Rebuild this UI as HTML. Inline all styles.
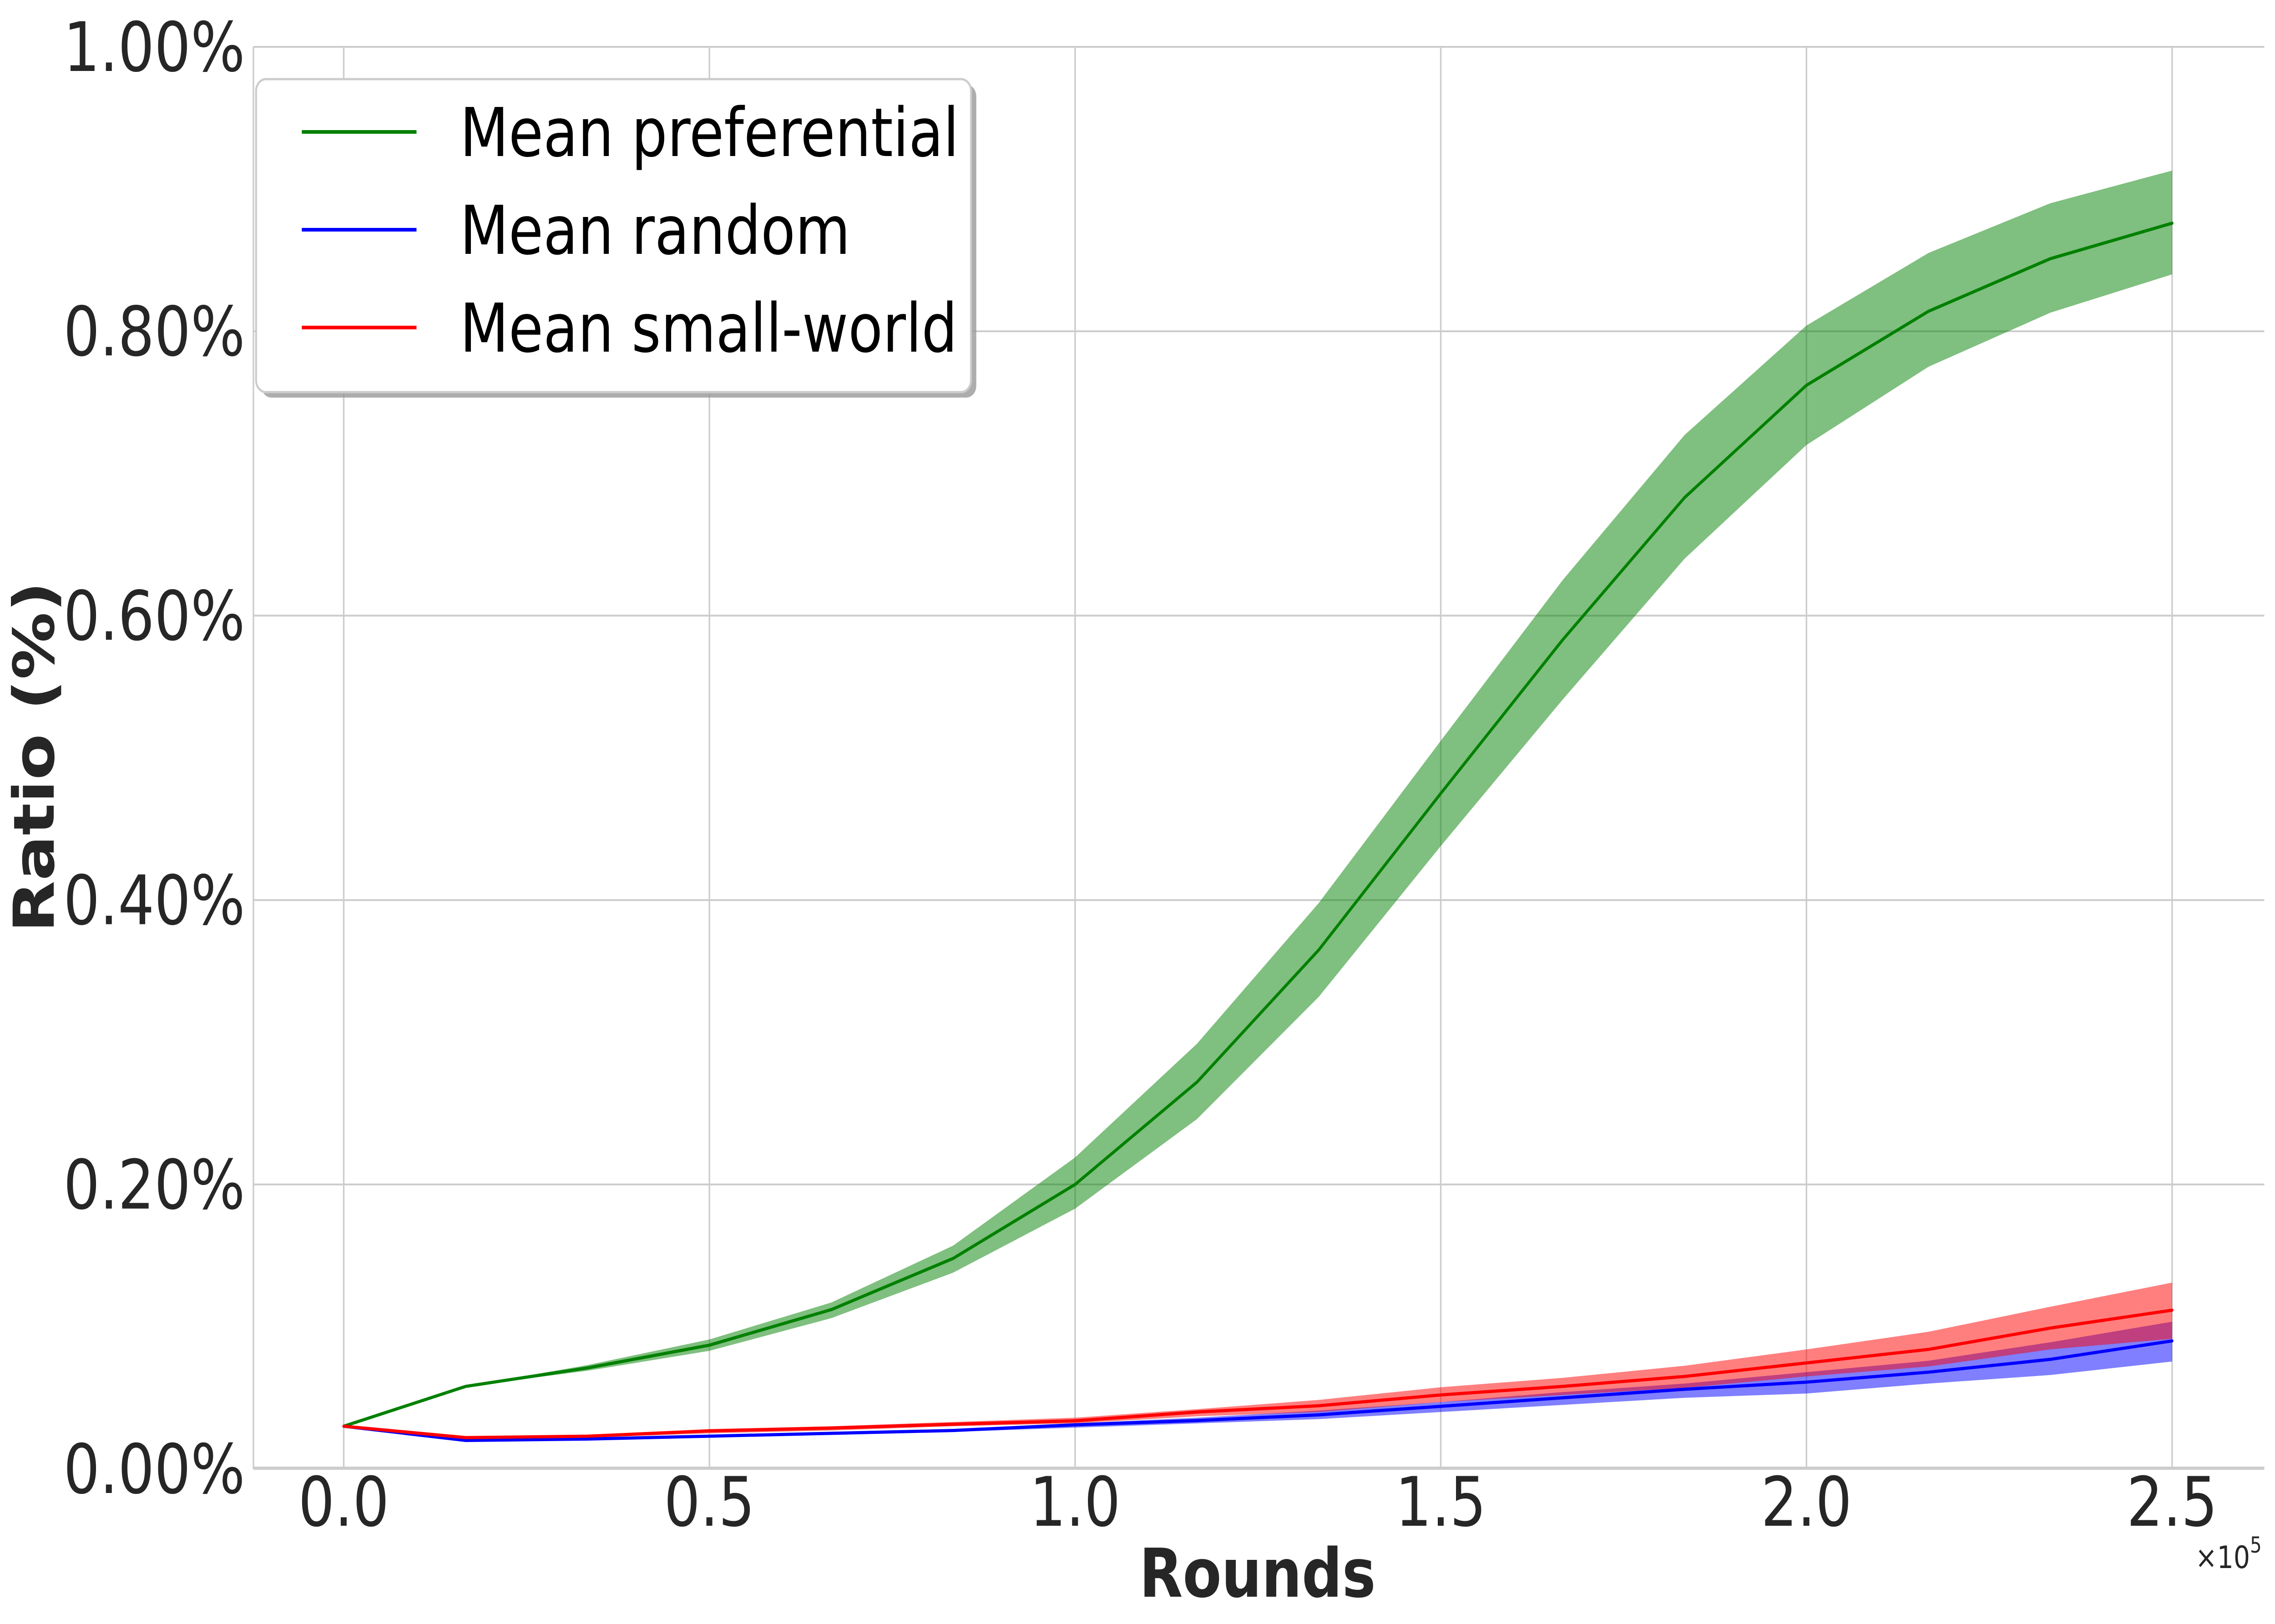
<!DOCTYPE html>
<html><head><meta charset="utf-8"><style>
html,body{margin:0;padding:0;background:#fff;width:100%;height:100%;overflow:hidden;}
svg{display:block;font-family:"DejaVu Sans","Liberation Sans",sans-serif;width:100vw;height:100vh;}
</style></head><body>
<svg id="chart" viewBox="0 0 5970 3570" preserveAspectRatio="none" xmlns="http://www.w3.org/2000/svg">
<g id="grid"></g>
<g id="bands"></g>
<g id="lines"></g>
<g id="axes"></g>
<text x="3300" y="3510" font-size="148" font-weight="bold" fill="#262626" text-anchor="middle">Rounds</text>
<text transform="translate(141,1664) rotate(-90)" font-size="148" font-weight="bold" fill="#262626" text-anchor="middle">Ratio (%)</text>
<text x="5935" y="3447" font-size="68" fill="#262626" text-anchor="end">×10<tspan font-size="48" dy="-34">5</tspan></text>
<g>
<rect x="686" y="186" width="1876" height="688" rx="26" fill="#999" opacity="0.8"/>
<rect x="672" y="174" width="1876" height="688" rx="26" fill="#fff" stroke="#cccccc" stroke-width="5"/>
<line x1="792" y1="290" x2="1093" y2="290" stroke="#008000" stroke-width="8"/>
<text x="1207" y="343" font-size="148" fill="#000">Mean preferential</text>
<line x1="792" y1="505" x2="1093" y2="505" stroke="#0000ff" stroke-width="8"/>
<text x="1207" y="558" font-size="148" fill="#000">Mean random</text>
<line x1="792" y1="720" x2="1093" y2="720" stroke="#ff0000" stroke-width="8"/>
<text x="1207" y="773" font-size="148" fill="#000">Mean small-world</text>
</g>
</svg>
<script>
const rounds = [0,0.1667,0.3333,0.5,0.6667,0.8333,1.0,1.1667,1.3333,1.5,1.6667,1.8333,2.0,2.1667,2.3333,2.5];
const prefMean = [0.030,0.058,0.071,0.087,0.112,0.148,0.200,0.272,0.365,0.475,0.583,0.683,0.762,0.814,0.851,0.876];
const prefUpper = [0.030,0.058,0.073,0.091,0.117,0.157,0.219,0.299,0.398,0.512,0.625,0.727,0.804,0.855,0.890,0.913];
const prefLower = [0.030,0.058,0.069,0.083,0.106,0.138,0.183,0.246,0.332,0.438,0.541,0.640,0.720,0.775,0.813,0.840];
const randMean = [0.030,0.020,0.021,0.023,0.025,0.027,0.031,0.034,0.038,0.044,0.050,0.056,0.061,0.068,0.077,0.090];
const randUpper = [0.030,0.0205,0.022,0.024,0.026,0.028,0.032,0.036,0.041,0.047,0.054,0.060,0.068,0.076,0.089,0.1035];
const randLower = [0.030,0.0195,0.020,0.022,0.024,0.026,0.029,0.032,0.035,0.040,0.045,0.050,0.053,0.060,0.066,0.0755];
const swMean = [0.030,0.022,0.023,0.0267,0.0287,0.0314,0.0338,0.040,0.0444,0.052,0.058,0.065,0.0745,0.084,0.099,0.1116];
const swUpper = [0.030,0.0225,0.024,0.028,0.030,0.033,0.036,0.042,0.0485,0.0574,0.064,0.0725,0.084,0.0964,0.114,0.131];
const swLower = [0.030,0.0215,0.022,0.025,0.027,0.030,0.032,0.037,0.040,0.047,0.052,0.057,0.065,0.072,0.084,0.0915];
const xTicks = [0,0.5,1.0,1.5,2.0,2.5];
const xTickLabels = ["0.0","0.5","1.0","1.5","2.0","2.5"];
const yTicks = [0,0.2,0.4,0.6,0.8,1.0];
const yTickLabels = ["0.00%","0.20%","0.40%","0.60%","0.80%","1.00%"];

const NS="http://www.w3.org/2000/svg";
const X0=902, X1=5700, Y0=3229, Y1=103;
function sx(v){return X0+(X1-X0)*v/2.5;}
function sy(v){return Y0-(Y0-Y1)*v/1.0;}
function mk(tag,attrs,parent){const e=document.createElementNS(NS,tag);for(const k in attrs)e.setAttribute(k,attrs[k]);parent.appendChild(e);return e;}
const grid=document.getElementById('grid'), bands=document.getElementById('bands'), lines=document.getElementById('lines'), axes=document.getElementById('axes');

xTicks.forEach((t,i)=>{
  const g=mk('line',{x1:sx(t),x2:sx(t),y1:Y1,y2:Y0,stroke:'#cccccc','stroke-width':4},grid);
  
  
  const l=mk('text',{x:sx(t),y:3354,'font-size':150,fill:'#262626','text-anchor':'middle'},axes);
  l.textContent=xTickLabels[i];
  
  
});
yTicks.forEach((t,i)=>{
  const g=mk('line',{x1:665,x2:5942,y1:sy(t),y2:sy(t),stroke:'#cccccc','stroke-width':4},grid);
  
  
  const l=mk('text',{x:643,y:sy(t)+53,'font-size':150,fill:'#262626','text-anchor':'end'},axes);
  l.textContent=yTickLabels[i];
  
  
});
const sl=mk('line',{x1:665,x2:665,y1:Y1,y2:Y0,stroke:'#cccccc','stroke-width':4},axes);


const sb=mk('line',{x1:665,x2:5942,y1:3227,y2:3227,stroke:'#cccccc','stroke-width':6},axes);



function band(up,lo,color,name){
  let d='M'+rounds.map((r,i)=>sx(r)+','+sy(up[i])).join('L');
  for(let i=rounds.length-1;i>=0;i--) d+='L'+sx(rounds[i])+','+sy(lo[i]);
  const p=mk('path',{d:d+'Z',fill:color,'fill-opacity':0.5},bands);
  
  
}
function line(vals,color,name){
  const p=mk('polyline',{points:rounds.map((r,i)=>sx(r)+','+sy(vals[i])).join(' '),fill:'none',stroke:color,'stroke-width':7,'stroke-linejoin':'round','stroke-linecap':'round'},lines);
  
  
}
band(prefUpper,prefLower,'#008000','band-preferential');
band(randUpper,randLower,'#0000ff','band-random');
band(swUpper,swLower,'#ff0000','band-small-world');
line(prefMean,'#008000','line-preferential');
line(randMean,'#0000ff','line-random');
line(swMean,'#ff0000','line-small-world');
</script>
</body></html>
